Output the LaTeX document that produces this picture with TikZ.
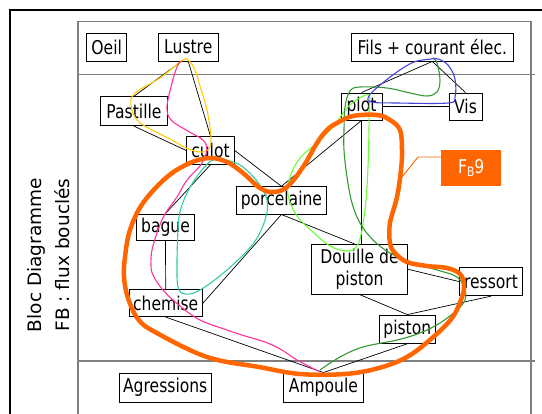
\documentclass[tikz,border=0pt]{standalone}
\usepackage{fontspec}
\setmainfont{DejaVu Sans}
\newfontfamily\boxfont[FakeStretch=0.82]{DejaVu Sans}
\definecolor{fborange}{HTML}{FF6600}
\definecolor{loopyellow}{HTML}{FFCC00}
\definecolor{looppink}{HTML}{FF3399}
\definecolor{loopteal}{HTML}{33CCAA}
\definecolor{looplime}{HTML}{66FF33}
\definecolor{loopgreen}{HTML}{339933}
\definecolor{loopblue}{HTML}{4444DD}
\definecolor{framegray}{HTML}{7F7F7F}
\tikzset{
  nbox/.style={draw=black, line width=0.9pt, inner sep=0pt, align=center,
    font=\boxfont\fontsize{19}{22}\selectfont},
  link/.style={draw=black, line width=0.7pt},
  handloop/.style={line width=1.1pt, line join=round, line cap=round},
  sidetext/.style={rotate=90, font=\fontsize{18.5}{22}\selectfont, inner sep=0pt}
}
\begin{document}
\begin{tikzpicture}[x=1pt,y=-1pt]
\useasboundingbox (0,0) rectangle (542,414);
\clip (0,0) rectangle (542,414);
\fill[white] (0,0) rectangle (542,414);
% frames
\draw[line width=2.2pt] (10,440) -- (10,10) -- (560,10);
\draw[framegray, line width=1.5pt] (78,440) -- (78,21.5) -- (531,21.5) -- (531,440);
\draw[framegray, line width=1.5pt] (78,74.5) -- (535,74.5);
\draw[framegray, line width=1.5pt] (78,361) -- (535,361);
% side text
\node[sidetext] (side1) at (36,255) {Bloc Diagramme};
\node[sidetext] (side2) at (62,255) {FB : flux bouclés};
% boxes
\node[nbox, minimum width=40pt, minimum height=28pt] (oeil) at (106.7,47) {Oeil};
\node[nbox, minimum width=59.3pt, minimum height=28pt] (lustre) at (188.3,47) {Lustre};
\node[nbox, minimum width=161.3pt, minimum height=28pt] (fils) at (432.3,47) {Fils + courant élec.};
\node[nbox, minimum width=66.6pt, minimum height=29pt] (pastille) at (134,111.2) {Pastille};
\node[nbox, minimum width=41pt, minimum height=27pt] (nplot) at (361.5,106.5) {plot};
\node[nbox, minimum width=33pt, minimum height=27pt] (vis) at (465.5,106.5) {Vis};
\node[nbox, minimum width=47.6pt, minimum height=27.6pt] (culot) at (210.5,150.5) {culot};
\node[nbox, minimum width=89.3pt, minimum height=27.3pt] (porc) at (281.4,200.4) {porcelaine};
\node[nbox, minimum width=57.6pt, minimum height=26pt] (bague) at (165.5,227) {bague};
\node[nbox, minimum width=73.3pt, minimum height=26.7pt] (chemise) at (165.7,303.3) {chemise};
\node[nbox, minimum width=95.6pt, minimum height=49.7pt] (douille) at (359.5,269.2) {Douille de\\piston};
\node[nbox, minimum width=63.4pt, minimum height=28.4pt] (ressort) at (491,281.5) {ressort};
\node[nbox, minimum width=56pt, minimum height=28.3pt] (piston) at (407.3,329.2) {piston};
\node[nbox, minimum width=92.4pt, minimum height=29pt] (agr) at (165.2,387.5) {Agressions};
\node[nbox, minimum width=79.2pt, minimum height=29pt] (ampoule) at (323.4,387.5) {Ampoule};
% connectors
\draw[link] ([xshift=-7pt]lustre.south) -- (pastille.north);
\draw[link] (lustre.south) -- (culot.north);
\draw[link] (pastille.south) -- (culot.west);
\draw[link] (culot.east) -- (porc.north);
\draw[link] (culot.south) -- (bague.north);
\draw[link] (bague.south) -- (chemise.north);
\draw[link] (porc.south) -- (chemise.east);
\draw[link] (porc.south) -- ([xshift=-5pt]douille.north);
\draw[link] (nplot.south) -- (porc.north);
\draw[link] (nplot.south) -- (nplot.south |- douille.north);
\draw[link] (fils.south) -- (nplot.north);
\draw[link] (fils.south) -- (vis.north);
\draw[link] (nplot.east) -- (vis.west);
\draw[link] (douille.east) -- (ressort.west);
\draw[link] (douille.south) -- (piston.north);
\draw[link] (piston.north) -- (ressort.south);
\draw[link] (piston.south) -- (ampoule.north);
\draw[link] (chemise.south) -- (ampoule.north);
% hand-drawn loops
\draw[handloop, loopyellow] plot[smooth cycle, tension=0.6] coordinates {(183,60) (160,78) (135,93) (131,105) (137,120) (152,130) (172,140) (186,148) (200,152) (209,149) (211,137) (207,110) (200,86) (195,70) (189,61)};
\draw[handloop, looppink] plot[smooth, tension=0.6] coordinates {(181,61) (177,67) (172,83) (167,107) (171,120) (186,130) (203,140) (207,150) (204,158) (200,166) (187,180) (177,197) (165,214) (158,230) (152,250) (151,265) (153,275) (163,290) (180,306) (200,320) (227,330) (245,336) (265,342) (282,350) (297,360) (320,372)};
\draw[handloop, loopteal] plot[smooth cycle, tension=0.6] coordinates {(211,161) (198,175) (187,193) (180,212) (178,230) (177,263) (178,287) (185,294) (200,290) (227,270) (253,244) (265,220) (267,200) (257,181) (240,165) (224,160)};
\draw[handloop, looplime] plot[smooth cycle, tension=0.6] coordinates {(369,95) (358,99) (347,108) (333,127) (317,143) (300,158) (290,177) (288,195) (297,216) (313,232) (330,246) (347,251) (357,246) (362,230) (366,200) (368,167) (369,130) (369,110)};
\draw[handloop, loopgreen] plot[smooth, tension=0.6] coordinates {(433,58) (437,63) (440,80) (437,92) (427,96) (410,93) (387,88) (360,87) (350,91) (345,107) (344,130) (344,150) (347,177) (352,203) (360,223) (373,240) (390,253) (413,263) (437,270) (457,277) (465,290) (465,300) (457,310) (440,323) (420,333) (397,340) (363,347) (340,357) (320,370)};
\draw[handloop, loopblue] plot[smooth cycle, tension=0.6] coordinates {(431,59) (414,62) (397,72) (379,86) (369,96) (371,102) (397,103) (448,103) (455,97) (455,79) (448,65) (438,59)};
% FB9 loop
\draw[fborange, line width=4.5pt, line join=round] plot[smooth cycle, tension=0.6] coordinates {(327,130) (337,123) (353,116) (377,115) (390,120) (400,130) (402,150) (401,170) (397,197) (390,223) (390,243) (395,253) (407,262) (427,266) (447,268) (460,274) (464,285) (462,297) (452,318) (431,339) (407,357) (379,368) (345,374) (300,374) (259,367) (207,357) (155,332) (138,319) (128,298) (124,277) (125,257) (130,230) (143,203) (167,177) (190,163) (210,158) (227,162) (243,173) (260,188) (273,192) (287,187) (303,167) (317,143)};
% FB9 label
\node[fill=fborange, inner sep=0pt, minimum width=59.5pt, minimum height=36pt, text=white, font=\boxfont\fontsize{19}{22}\selectfont] (fb9) at (471.2,168) {F\raisebox{-0.3ex}{\fontsize{13}{13}\selectfont B}9};
\coordinate (leadA) at (418,157);
\coordinate (leadB) at (402,177);
\draw[fborange, line width=0.9pt] ([yshift=11pt]fb9.west) -- (leadA) -- (leadB);
\end{tikzpicture}
\end{document}
